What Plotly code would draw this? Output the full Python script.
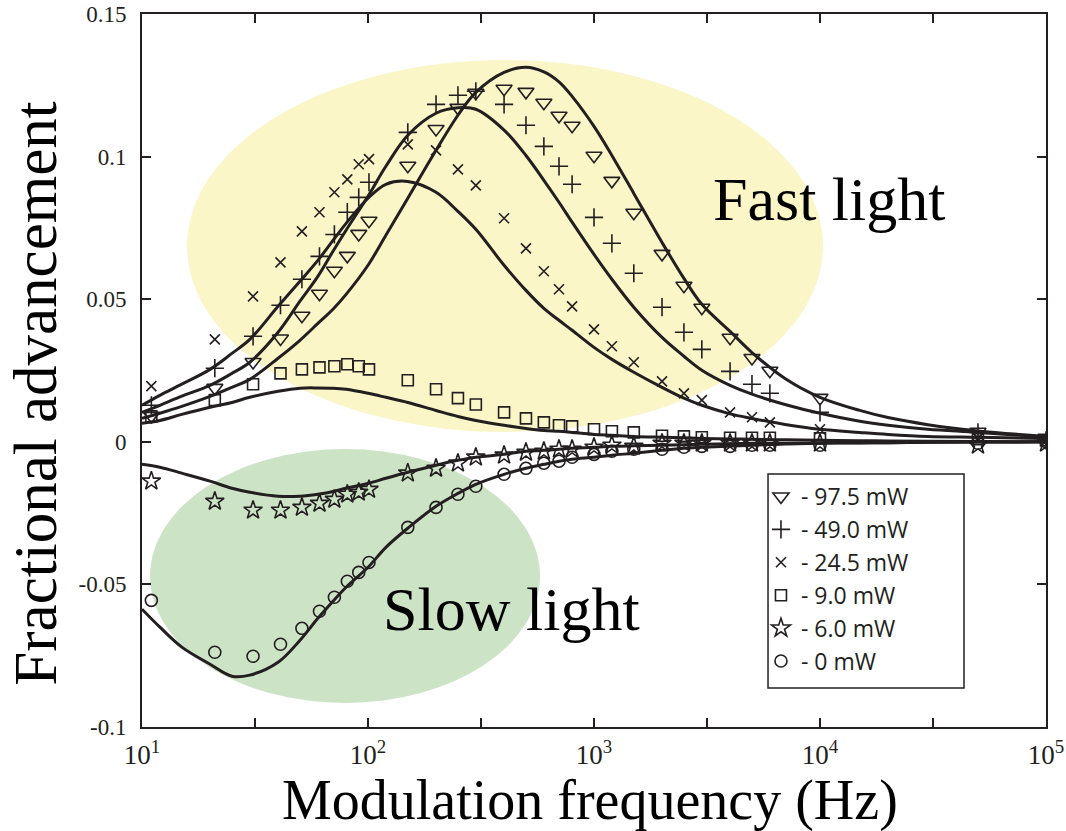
import plotly.graph_objects as go

# ---- measured data: modulation frequency (Hz) and fractional advancement ----
freq = [11, 21, 31, 41, 51, 61, 71, 81, 91, 101, 150, 200, 250, 300, 400, 500,
        600, 700, 800, 1000, 1200, 1500, 2000, 2500, 3000, 4000, 5000, 6000,
        10000, 50000, 100000]

adv_97_5 = [0.0091, 0.0189, 0.0280, 0.0362, 0.0442, 0.0519, 0.0600, 0.0652, 0.0729, 0.0775,
            0.0968, 0.1097, 0.1171, 0.1224, 0.1238, 0.1227, 0.1189, 0.1143, 0.1108, 0.1003,
            0.0915, 0.0803, 0.0659, 0.0547, 0.0470, 0.0365, 0.0294, 0.0249, 0.0154, 0.0035, 0.0014]
adv_49_0 = [0.0128, 0.0258, 0.0370, 0.0479, 0.0570, 0.0650, 0.0727, 0.0805, 0.0857, 0.0910,
            0.1085, 0.1183, 0.1215, 0.1229, 0.1183, 0.1110, 0.1036, 0.0966, 0.0903, 0.0787,
            0.0696, 0.0591, 0.0472, 0.0384, 0.0324, 0.0247, 0.0202, 0.0170, 0.0103, 0.0033, 0.0005]
adv_24_5 = [0.0195, 0.0359, 0.0510, 0.0629, 0.0738, 0.0805, 0.0875, 0.0920, 0.0973, 0.0991,
            0.1043, 0.1022, 0.0955, 0.0899, 0.0784, 0.0678, 0.0598, 0.0535, 0.0475, 0.0394,
            0.0335, 0.0279, 0.0212, 0.0170, 0.0146, 0.0103, 0.0086, 0.0068, 0.0044, 0.0012, 0.0002]
adv_9_0 = [0.0089, 0.0146, 0.0202, 0.0240, 0.0254, 0.0261, 0.0265, 0.0272, 0.0265, 0.0254,
           0.0216, 0.0184, 0.0153, 0.0131, 0.0103, 0.0082, 0.0068, 0.0058, 0.0054, 0.0044,
           0.0037, 0.0033, 0.0021, 0.0019, 0.0016, 0.0014, 0.0014, 0.0014, 0.0012, 0.0009, 0.0005]
adv_6_0 = [-0.0138, -0.0209, -0.0240, -0.0240, -0.0230, -0.0216, -0.0202, -0.0184, -0.0177, -0.0167,
           -0.0110, -0.0093, -0.0075, -0.0054, -0.0047, -0.0037, -0.0033, -0.0026, -0.0026, -0.0019,
           -0.0012, -0.0016, -0.0005, -0.0005, -0.0005, -0.0005, -0.0005, -0.0005, -0.0005, -0.0012, -0.0005]
adv_0 = [-0.0556, -0.0738, -0.0752, -0.0710, -0.0654, -0.0594, -0.0545, -0.0489, -0.0458, -0.0423,
         -0.0300, -0.0230, -0.0184, -0.0156, -0.0114, -0.0093, -0.0075, -0.0068, -0.0054, -0.0044,
         -0.0033, -0.0026, -0.0026, -0.0019, -0.0016, -0.0016, -0.0012, -0.0012, -0.0012, -0.0005, 0.0]

# ---- model curves, sampled on a common frequency grid ----
fit_freq = [10, 12, 15, 20, 25, 30, 40, 50, 60, 70, 80, 100, 120, 150, 200, 250, 300, 400,
            500, 600, 700, 800, 1000, 1200, 1500, 2000, 2500, 3000, 4000, 5000, 7000, 10000,
            15000, 20000, 30000, 50000, 100000]

fit_97_5 = [0.0082, 0.0100, 0.0124, 0.0159, 0.0191, 0.0219, 0.0293, 0.0356, 0.0415, 0.0465,
            0.0517, 0.0619, 0.0724, 0.0854, 0.1022, 0.1145, 0.1225, 0.1295, 0.1313, 0.1297,
            0.1262, 0.1211, 0.1106, 0.1004, 0.0871, 0.0699, 0.0573, 0.0482, 0.0387, 0.0313,
            0.0222, 0.0156, 0.0110, 0.0085, 0.0060, 0.0038, 0.0019]
fit_49_0 = [0.0103, 0.0128, 0.0160, 0.0198, 0.0240, 0.0279, 0.0384, 0.0493, 0.0580, 0.0668,
            0.0742, 0.0861, 0.0966, 0.1075, 0.1152, 0.1171, 0.1166, 0.1093, 0.1004, 0.0917,
            0.0840, 0.0770, 0.0657, 0.0570, 0.0472, 0.0366, 0.0300, 0.0251, 0.0198, 0.0167,
            0.0131, 0.0100, 0.0072, 0.0058, 0.0044, 0.0033, 0.0016]
fit_24_5 = [0.0128, 0.0163, 0.0202, 0.0254, 0.0310, 0.0359, 0.0475, 0.0563, 0.0636, 0.0706,
            0.0766, 0.0854, 0.0903, 0.0913, 0.0875, 0.0808, 0.0745, 0.0619, 0.0531, 0.0468,
            0.0426, 0.0391, 0.0331, 0.0289, 0.0244, 0.0191, 0.0153, 0.0128, 0.0098, 0.0082,
            0.0061, 0.0044, 0.0033, 0.0026, 0.0019, 0.0016, 0.0012]
fit_9_0 = [0.0065, 0.0075, 0.0096, 0.0121, 0.0138, 0.0156, 0.0177, 0.0188, 0.0189, 0.0188,
           0.0184, 0.0170, 0.0156, 0.0138, 0.0110, 0.0089, 0.0075, 0.0058, 0.0047, 0.0040,
           0.0037, 0.0033, 0.0026, 0.0023, 0.0019, 0.0016, 0.0014, 0.0012, 0.0010, 0.0009,
           0.0007, 0.0005, 0.0004, 0.0003, 0.0002, 0.0001, 0.0]
fit_6_0 = [-0.0079, -0.0089, -0.0110, -0.0138, -0.0163, -0.0177, -0.0191, -0.0191, -0.0184, -0.0174,
           -0.0163, -0.0146, -0.0128, -0.0107, -0.0082, -0.0065, -0.0054, -0.0044, -0.0033, -0.0030,
           -0.0026, -0.0023, -0.0019, -0.0016, -0.0014, -0.0012, -0.0010, -0.0009, -0.0007, -0.0005,
           -0.0005, -0.0004, -0.0003, -0.0003, -0.0002, -0.0001, 0.0]
fit_0 = [-0.0587, -0.0650, -0.0720, -0.0780, -0.0822, -0.0818, -0.0773, -0.0696, -0.0619, -0.0559,
         -0.0510, -0.0440, -0.0370, -0.0303, -0.0226, -0.0181, -0.0149, -0.0114, -0.0093, -0.0079,
         -0.0068, -0.0061, -0.0054, -0.0047, -0.0040, -0.0030, -0.0023, -0.0019, -0.0015, -0.0012,
         -0.0008, -0.0005, -0.0004, -0.0003, -0.0002, -0.0001, 0.0]

# ---- series styling / legend labels ----
series_labels = ["- 97.5 mW", "- 49.0 mW", "- 24.5 mW", "- 9.0 mW", "- 6.0 mW", "- 0 mW"]
series_values = [adv_97_5, adv_49_0, adv_24_5, adv_9_0, adv_6_0, adv_0]
fit_values = [fit_97_5, fit_49_0, fit_24_5, fit_9_0, fit_6_0, fit_0]
symbols = ["triangle-down-open", "cross-thin-open", "x-thin-open", "square-open", "star-open", "circle-open"]
sizes = [14, 13, 10, 11, 14, 12]

x_tickvals = [10, 100, 1000, 10000, 100000]
x_ticktext = ["10<sup>1</sup>", "10<sup>2</sup>", "10<sup>3</sup>", "10<sup>4</sup>", "10<sup>5</sup>"]
x_minor_tickvals = [31.6228, 316.228, 3162.28, 31622.8]
y_tickvals = [-0.1, -0.05, 0, 0.05, 0.1, 0.15]
y_ticktext = ["-0.1", "-0.05", "0", "0.05", "0.1", "0.15"]

INK = "#231f20"
SERIF = "Liberation Serif, Times New Roman, serif"

fig = go.Figure()

for fv in fit_values:
    fig.add_trace(go.Scatter(
        x=fit_freq, y=fv, mode="lines", showlegend=False, hoverinfo="skip",
        line=dict(color=INK, width=3, shape="spline", smoothing=1.0),
    ))

for name, vals, sym, sz in zip(series_labels, series_values, symbols, sizes):
    fig.add_trace(go.Scatter(
        x=freq, y=vals, mode="markers", name=name,
        marker=dict(symbol=sym, size=sz, color=INK, line=dict(color=INK, width=1.6)),
    ))

# shaded regions marking the two regimes
fig.add_shape(type="circle", xref="paper", yref="paper", layer="below",
              x0=0.0498, x1=0.7533, y0=0.4137, y1=0.9355,
              fillcolor="#faf6c8", line=dict(width=0))
fig.add_shape(type="circle", xref="paper", yref="paper", layer="below",
              x0=0.0089, x1=0.4403, y0=0.0337, y1=0.3899,
              fillcolor="#cce4c5", line=dict(width=0))
# frame around the legend
fig.add_shape(type="rect", xref="paper", yref="paper", layer="below",
              x0=0.6925, x1=0.9093, y0=0.0547, y1=0.3548,
              fillcolor="white", line=dict(color=INK, width=1.5))

centered = dict(xref="paper", yref="paper", showarrow=False, xanchor="center", yanchor="middle")
fig.add_annotation(text="Fast light", x=0.761, y=0.740,
                   font=dict(family=SERIF, size=62, color="#000000"), **centered)
fig.add_annotation(text="Slow light", x=0.409, y=0.165,
                   font=dict(family=SERIF, size=62, color="#000000"), **centered)
fig.add_annotation(text="Fractional advancement", x=-0.118, y=0.468, textangle=-90,
                   font=dict(family=SERIF, size=61, color="#000000"), **centered)
fig.add_annotation(text="Modulation frequency (Hz)", x=0.4956, y=-0.1025,
                   font=dict(family=SERIF, size=56, color="#000000"), **centered)

axis_common = dict(showline=True, linewidth=2, linecolor=INK, mirror="ticks",
                   ticks="inside", ticklen=9, tickwidth=1.5, tickcolor=INK,
                   showgrid=False, zeroline=False, automargin=False)

fig.update_xaxes(type="log", range=[1, 5], tickvals=x_tickvals, ticktext=x_ticktext,
                 tickfont=dict(family=SERIF, size=27, color=INK),
                 ticklabelstandoff=3,
                 minor=dict(tickmode="array", tickvals=x_minor_tickvals, ticks="inside",
                            ticklen=9, tickwidth=1.5, tickcolor=INK, showgrid=False),
                 **axis_common)
fig.update_yaxes(range=[-0.1, 0.15], tickvals=y_tickvals, ticktext=y_ticktext,
                 tickfont=dict(family=SERIF, size=23, color=INK),
                 ticklabelstandoff=9, **axis_common)

fig.update_layout(
    width=1066, height=831,
    margin=dict(l=142, r=20, t=14, b=104),
    paper_bgcolor="white", plot_bgcolor="white",
    legend=dict(x=0.6847, y=0.3534, xanchor="left", yanchor="top",
                bgcolor="rgba(0,0,0,0)", borderwidth=0,
                font=dict(family="Open Sans, sans-serif", size=23, color=INK)),
)

fig.write_html("out.html")
